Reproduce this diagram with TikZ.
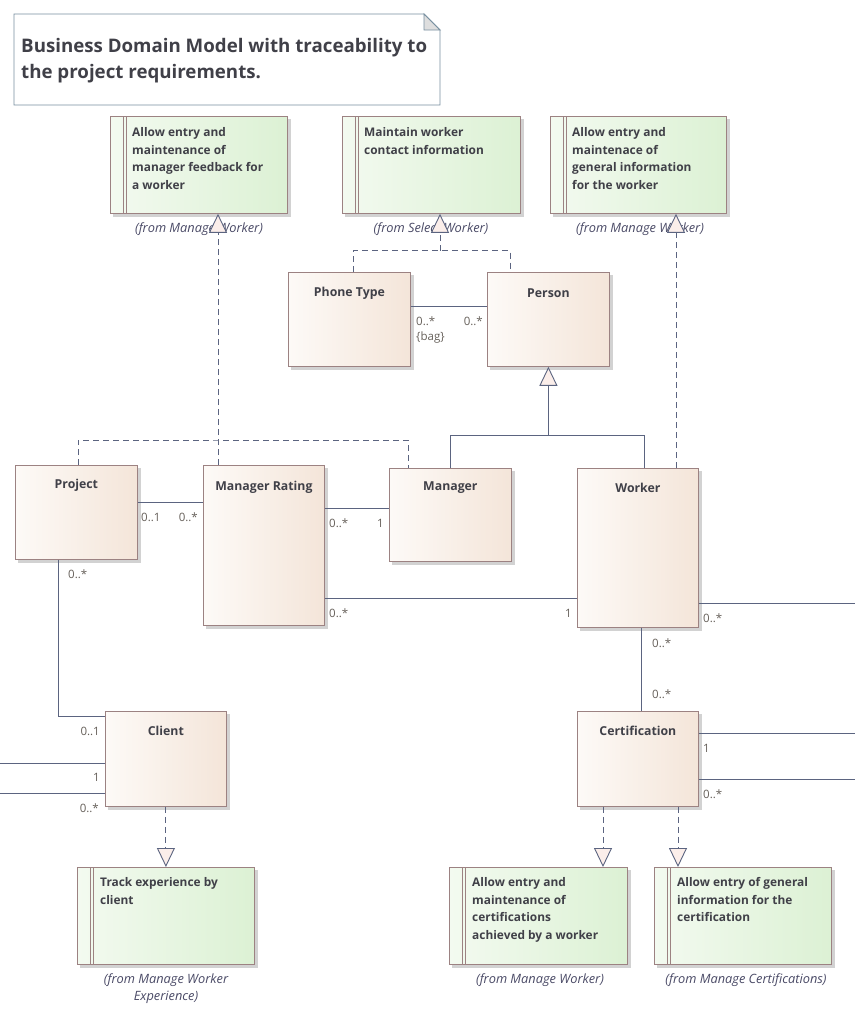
\documentclass[tikz,border=0pt]{standalone}
\usepackage{fontspec}
\setmainfont{Open Sans}
\usetikzlibrary{arrows.meta,calc,backgrounds}
\definecolor{linec}{HTML}{5B6480}
\definecolor{boxborder}{HTML}{9C8282}
\definecolor{clsL}{HTML}{FDFAF7}
\definecolor{clsR}{HTML}{F4E5D9}
\definecolor{reqL}{HTML}{F3FAF0}
\definecolor{reqR}{HTML}{DCF1D4}
\definecolor{shadowc}{HTML}{D2D2D2}
\definecolor{txt}{HTML}{404048}
\definecolor{multc}{HTML}{66605A}
\definecolor{fromc}{HTML}{4A4A66}
\definecolor{notec}{HTML}{7890A0}
\definecolor{foldc}{HTML}{DEDEDE}
\definecolor{trifill}{HTML}{FBEEEA}
\begin{document}
\begin{tikzpicture}[x=1pt,y=-1pt,
  cls/.style={rectangle, draw=boxborder, line width=0.8pt, left color=clsL, right color=clsR,
    anchor=north west, inner sep=0pt},
  req/.style={rectangle, draw=boxborder, line width=0.8pt, left color=reqL, right color=reqR,
    anchor=north west, inner sep=0pt, minimum width=177pt, minimum height=97pt,
    path picture={
      \draw[boxborder, line width=0.8pt]
        ([xshift=13pt]path picture bounding box.north west) -- ([xshift=13pt]path picture bounding box.south west)
        ([xshift=16pt]path picture bounding box.north west) -- ([xshift=16pt]path picture bounding box.south west);}},
  reqtext/.style={anchor=north west, align=left, inner sep=0pt, text=txt,
    font=\fontsize{11.9}{17.8}\selectfont\bfseries},
  clstitle/.style={inner sep=0pt, text=txt, font=\fontsize{12.3}{15}\selectfont\bfseries},
  fromtext/.style={inner sep=0pt, text=fromc, align=center,
    font=\fontsize{12.8}{17}\selectfont\itshape},
  mult/.style={inner sep=0pt, text=multc, font=\fontsize{11.5}{14}\selectfont},
  assoc/.style={draw=linec, line width=0.9pt},
  real/.style={draw=linec, line width=0.9pt, dash pattern=on 6pt off 4pt},
  tri/.style={-{Triangle[open, width=18pt, length=19pt, fill=trifill, line width=0.9pt]}}
]
\useasboundingbox (0,0) rectangle (855,1023);

% title note
\draw[notec, line width=0.9pt, fill=white] (14,14) -- (424,14) -- (440,30) -- (440,105) -- (14,105) -- cycle;
\draw[notec, line width=0.9pt, fill=foldc] (424,14) -- (424,30) -- (440,30) -- cycle;
\node[anchor=north west, align=left, inner sep=0pt, text=txt,
  font=\fontsize{18.7}{26}\selectfont\bfseries] (title) at (21,38)
  {Business Domain Model with traceability to\\the project requirements.};

% requirements
\node[req] (r1) at (110,116) {};
\node[reqtext] (r1t) at (132,127) {Allow entry and\\maintenance of\\manager feedback for\\a worker};
\node[fromtext] (r1f) at (199,229) {(from Manage Worker)};

\node[req, minimum width=178pt] (r2) at (342,116) {};
\node[reqtext] (r2t) at (364,127) {Maintain worker\\contact information};
\node[fromtext] (r2f) at (431,229) {(from Select Worker)};

\node[req, minimum width=176pt] (r3) at (550,116) {};
\node[reqtext] (r3t) at (572,127) {Allow entry and\\maintenace of\\general information\\for the worker};
\node[fromtext] (r3f) at (640,229) {(from Manage Worker)};

\node[req] (r4) at (77,867) {};
\node[reqtext] (r4t) at (100,877) {Track experience by\\client};
\node[fromtext] (r4f) at (166,989) {(from Manage Worker\\Experience)};

\node[req, minimum width=178pt] (r5) at (449,867) {};
\node[reqtext] (r5t) at (472,877) {Allow entry and\\maintenance of\\certifications\\achieved by a worker};
\node[fromtext] (r5f) at (540,980) {(from Manage Worker)};

\node[req] (r6) at (654,867) {};
\node[reqtext] (r6t) at (677,877) {Allow entry of general\\information for the\\certification};
\node[fromtext] (r6f) at (746,980) {(from Manage Certifications)};

% classes
\node[cls, minimum width=122pt, minimum height=94pt] (phone) at (288,272) {};
\node[clstitle] (phoneT) at ($(phone.north)+(0,21)$) {Phone Type};
\node[cls, minimum width=122pt, minimum height=94pt] (person) at (487,272) {};
\node[clstitle] (personT) at ($(person.north)+(0,21)$) {Person};
\node[cls, minimum width=122pt, minimum height=94pt] (project) at (15,465) {};
\node[clstitle] (projectT) at ($(project.north)+(0,20)$) {Project};
\node[cls, minimum width=121pt, minimum height=160pt] (mrating) at (203,465) {};
\node[clstitle] (mratingT) at ($(mrating.north)+(0,22)$) {Manager Rating};
\node[cls, minimum width=122pt, minimum height=93pt] (manager) at (389,468) {};
\node[clstitle] (managerT) at ($(manager.north)+(0,20)$) {Manager};
\node[cls, minimum width=121pt, minimum height=159pt] (worker) at (577,468) {};
\node[clstitle] (workerT) at ($(worker.north)+(0,20)$) {Worker};
\node[cls, minimum width=121pt, minimum height=95pt] (client) at (105,711) {};
\node[clstitle] (clientT) at ($(client.north)+(0,20)$) {Client};
\node[cls, minimum width=121pt, minimum height=95pt] (cert) at (577,711) {};
\node[clstitle] (certT) at ($(cert.north)+(0,20)$) {Certification};

% shadows and background
\begin{scope}[on background layer]
  \fill[white] (0,0) rectangle (855,1023);
  \foreach \n in {r1,r2,r3,r4,r5,r6,phone,person,project,mrating,manager,worker,client,cert}{
    \fill[shadowc] ($(\n.north west)+(3,3)$) rectangle ($(\n.south east)+(3,3)$);
  }
\end{scope}

% free ends
\coordinate (eW) at (855,603);
\coordinate (eC1) at (855,733);
\coordinate (eC2) at (855,779);
\coordinate (eL1) at (0,763);
\coordinate (eL2) at (0,793);

% associations
\draw[assoc] ($(phone.north east)+(0,34)$) -- ($(person.north west)+(0,34)$);
\draw[assoc] ($(project.north east)+(0,37)$) -- ($(mrating.north west)+(0,37)$);
\draw[assoc] ($(mrating.north east)+(0,43)$) -- ($(manager.north west)+(0,40)$);
\draw[assoc] ($(mrating.north east)+(0,133)$) -- ($(worker.north west)+(0,130)$);
\draw[assoc] ($(worker.north east)+(0,135)$) -- (eW);
\draw[assoc] ($(worker.south west)+(64,0)$) -- ($(cert.north west)+(64,0)$);
\draw[assoc] ($(project.south west)+(43,0)$) |- ($(client.north west)+(0,5)$);
\draw[assoc] (eL1) -- ($(client.north west)+(0,52)$);
\draw[assoc] (eL2) -- ($(client.north west)+(0,82)$);
\draw[assoc] ($(cert.north east)+(0,22)$) -- (eC1);
\draw[assoc] ($(cert.north east)+(0,68)$) -- (eC2);

% generalization
\coordinate (g) at ($(person.south)+(0,69)$);
\draw[assoc] ($(manager.north west)+(61,0)$) |- (g) -| ($(worker.north west)+(67,0)$);
\draw[assoc, tri] (g) -- (person.south);

% realizations
\coordinate (j2) at ($(r2.south west)+(98,37)$);
\draw[real] ($(phone.north west)+(65,0)$) |- (j2) -| ($(person.north west)+(23,0)$);
\draw[real, tri] (j2) -- ($(r2.south west)+(98,0)$);

\coordinate (j1) at ($(mrating.north west)+(15,-25)$);
\draw[real] ($(project.north west)+(63,0)$) |- (j1) -| ($(manager.north west)+(19,0)$);
\draw[real, tri] ($(mrating.north west)+(15,0)$) -- ($(r1.south west)+(108,0)$);

\draw[real, tri] ($(worker.north west)+(99,0)$) -- ($(r3.south west)+(126,0)$);
\draw[real, tri] (client.south) -- (r4.north);
\draw[real, tri] ($(cert.south west)+(26,0)$) -- ($(r5.north west)+(154,0)$);
\draw[real, tri] ($(cert.south west)+(101,0)$) -- ($(r6.north west)+(24,0)$);

% multiplicities
\node[mult, anchor=west] (m1) at (416,321) {0..*};
\node[mult, anchor=west] (m2) at (416,338) {\{bag\}};
\node[mult, anchor=east] (m3) at (483,321) {0..*};
\node[mult, anchor=west] (m4) at (141,517) {0..1};
\node[mult, anchor=east] (m5) at (198,517) {0..*};
\node[mult, anchor=west] (m6) at (329,523) {0..*};
\node[mult, anchor=east] (m7) at (384,523) {1};
\node[mult, anchor=west] (m8) at (329,613) {0..*};
\node[mult, anchor=east] (m9) at (572,613) {1};
\node[mult, anchor=west] (m10) at (703,618) {0..*};
\node[mult, anchor=west] (m11) at (652,643) {0..*};
\node[mult, anchor=west] (m12) at (652,694) {0..*};
\node[mult, anchor=west] (m13) at (68,574) {0..*};
\node[mult, anchor=east] (m14) at (100,731) {0..1};
\node[mult, anchor=east] (m15) at (100,777) {1};
\node[mult, anchor=east] (m16) at (99,808) {0..*};
\node[mult, anchor=west] (m17) at (703,748) {1};
\node[mult, anchor=west] (m18) at (703,794) {0..*};
\end{tikzpicture}
\end{document}
